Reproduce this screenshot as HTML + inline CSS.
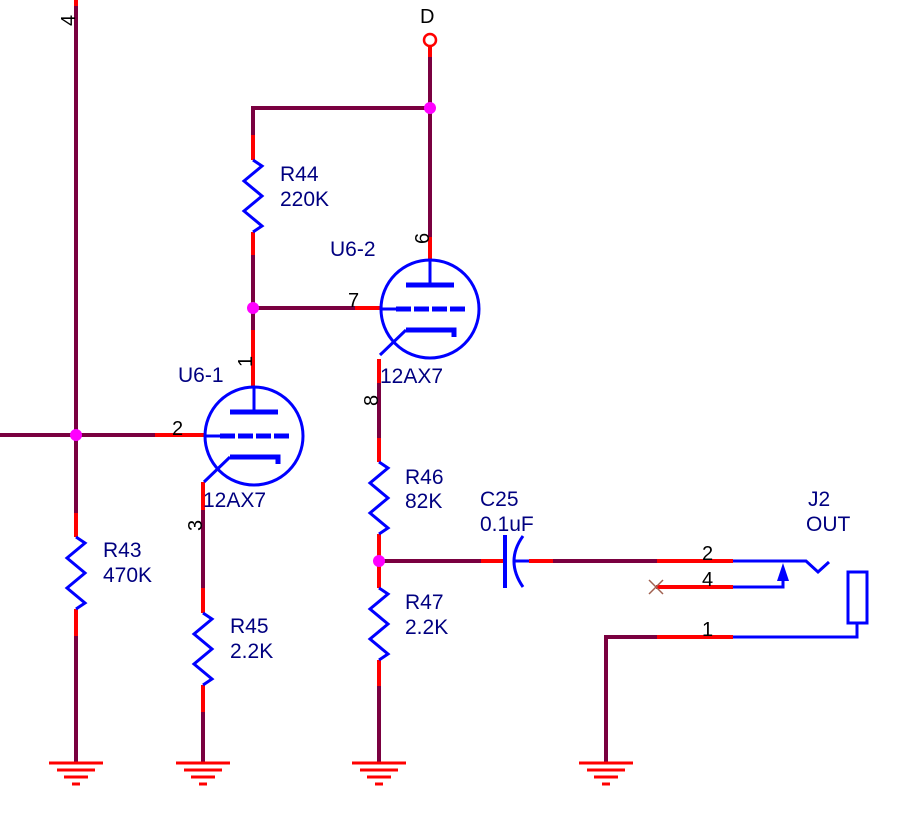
<!DOCTYPE html>
<html><head><meta charset="utf-8"><style>
html,body{margin:0;padding:0;background:#fff;width:909px;height:827px;overflow:hidden}
svg{display:block}
text{font-family:"Liberation Sans",sans-serif;font-size:21px;fill:#000080}
.p{fill:#000;font-size:20px}
</style></head><body>
<svg width="909" height="827" viewBox="0 0 909 827" xmlns="http://www.w3.org/2000/svg">
<defs>
<g id="gnd" stroke="#ff0000" stroke-width="3">
<line x1="-27" y1="0" x2="27" y2="0"/>
<line x1="-19" y1="7" x2="19" y2="7"/>
<line x1="-12" y1="14" x2="12" y2="14"/>
<line x1="-4" y1="21" x2="4" y2="21"/>
</g>
<polyline id="res" points="0,0 9,6 -9,21 9,36 -9,51 9,66 0,72" fill="none" stroke="#0000ff" stroke-width="3"/>
<g id="tube">
<circle cx="0" cy="0" r="49" fill="none" stroke="#0000ff" stroke-width="3"/>
<line x1="0" y1="-49" x2="0" y2="-24" stroke="#0000ff" stroke-width="3"/>
<line x1="-24" y1="-24" x2="24" y2="-24" stroke="#0000ff" stroke-width="5"/>
<line x1="-49" y1="0" x2="-34" y2="0" stroke="#0000ff" stroke-width="3"/>
<line x1="-34" y1="0" x2="35" y2="0" stroke="#0000ff" stroke-width="5" stroke-dasharray="15,3"/>
<polyline points="-24,21 24,21 24,28" fill="none" stroke="#0000ff" stroke-width="5"/>
<line x1="-24" y1="21" x2="-50" y2="46" stroke="#0000ff" stroke-width="3"/>
</g>
</defs>
<g fill="none" stroke-width="4">
<line x1="76" y1="0" x2="76" y2="513" stroke="#7a0040"/>
<line x1="76" y1="0" x2="76" y2="6" stroke="#ff0000"/>
<line x1="76" y1="513" x2="76" y2="537" stroke="#ff0000"/>
<line x1="76" y1="609" x2="76" y2="636" stroke="#ff0000"/>
<line x1="76" y1="636" x2="76" y2="763" stroke="#7a0040"/>
<line x1="0" y1="435" x2="155" y2="435" stroke="#7a0040"/>
<line x1="155" y1="435" x2="205" y2="435" stroke="#ff0000"/>
<line x1="203" y1="482" x2="203" y2="510" stroke="#ff0000"/>
<line x1="203" y1="510" x2="203" y2="588" stroke="#7a0040"/>
<line x1="203" y1="588" x2="203" y2="613" stroke="#ff0000"/>
<line x1="203" y1="685" x2="203" y2="712" stroke="#ff0000"/>
<line x1="203" y1="712" x2="203" y2="763" stroke="#7a0040"/>
<line x1="253" y1="106" x2="253" y2="135" stroke="#7a0040"/>
<line x1="253" y1="135" x2="253" y2="160" stroke="#ff0000"/>
<line x1="253" y1="232" x2="253" y2="255" stroke="#ff0000"/>
<line x1="253" y1="255" x2="253" y2="330" stroke="#7a0040"/>
<line x1="253" y1="330" x2="253" y2="386" stroke="#ff0000"/>
<line x1="251" y1="108" x2="430" y2="108" stroke="#7a0040"/>
<line x1="253" y1="308" x2="355" y2="308" stroke="#7a0040"/>
<line x1="355" y1="308" x2="381" y2="308" stroke="#ff0000"/>
<line x1="430" y1="57" x2="430" y2="237" stroke="#7a0040"/>
<line x1="430" y1="46" x2="430" y2="57" stroke="#ff0000"/>
<line x1="430" y1="237" x2="430" y2="260" stroke="#ff0000"/>
<line x1="379" y1="359" x2="379" y2="383" stroke="#ff0000"/>
<line x1="379" y1="383" x2="379" y2="438" stroke="#7a0040"/>
<line x1="379" y1="438" x2="379" y2="462" stroke="#ff0000"/>
<line x1="379" y1="534" x2="379" y2="588" stroke="#ff0000"/>
<line x1="379" y1="660" x2="379" y2="686" stroke="#ff0000"/>
<line x1="379" y1="686" x2="379" y2="763" stroke="#7a0040"/>
<line x1="379" y1="561" x2="481" y2="561" stroke="#7a0040"/>
<line x1="481" y1="561" x2="505" y2="561" stroke="#ff0000"/>
<line x1="529" y1="561" x2="553" y2="561" stroke="#ff0000"/>
<line x1="553" y1="561" x2="657" y2="561" stroke="#7a0040"/>
<line x1="657" y1="561" x2="733" y2="561" stroke="#ff0000"/>
<line x1="656" y1="587" x2="733" y2="587" stroke="#ff0000"/>
<polyline points="606,763 606,637 657,637" stroke="#7a0040"/>
<line x1="657" y1="637" x2="733" y2="637" stroke="#ff0000"/>
</g>
<use href="#res" x="76" y="537"/>
<use href="#res" x="203" y="613"/>
<use href="#res" x="253" y="160"/>
<use href="#res" x="379" y="462"/>
<use href="#res" x="379" y="588"/>
<use href="#tube" x="254" y="436"/>
<use href="#tube" x="430" y="309"/>
<line x1="505" y1="535" x2="505" y2="588" stroke="#0000ff" stroke-width="4"/>
<path d="M523,536 Q505,561 523,587" fill="none" stroke="#0000ff" stroke-width="3"/>
<line x1="515" y1="561" x2="529" y2="561" stroke="#0000ff" stroke-width="3"/>
<g fill="none" stroke="#0000ff" stroke-width="3">
<polyline points="733,561 806,561 818,572 829,562"/>
<polyline points="733,587 783,587 783,575"/>
<polyline points="733,637 857,637 857,623"/>
<rect x="848" y="572" width="19" height="51"/>
</g>
<polygon points="783,563 777,581 789,581" fill="#0000ff"/>
<g stroke="#a06050" stroke-width="1.5"><line x1="649" y1="580" x2="663" y2="594"/><line x1="663" y1="580" x2="649" y2="594"/></g>
<use href="#gnd" x="76" y="763"/>
<use href="#gnd" x="203" y="763"/>
<use href="#gnd" x="379" y="763"/>
<use href="#gnd" x="606" y="763"/>
<g fill="#ff00ff"><circle cx="76" cy="435" r="6"/><circle cx="253" cy="308" r="6"/><circle cx="430" cy="108" r="6"/><circle cx="379" cy="561" r="6"/></g>
<circle cx="430" cy="40" r="6" fill="#fff" stroke="#ff0000" stroke-width="2.5"/>
<text x="420" y="23" class="p">D</text>
<text x="280" y="181">R44</text><text x="280" y="206">220K</text>
<text x="330" y="256">U6-2</text>
<text x="178" y="382">U6-1</text>
<text x="380" y="383">12AX7</text>
<text x="203" y="507">12AX7</text>
<text x="405" y="484">R46</text><text x="405" y="508">82K</text>
<text x="405" y="609">R47</text><text x="405" y="634">2.2K</text>
<text x="103" y="557">R43</text><text x="103" y="582">470K</text>
<text x="230" y="633">R45</text><text x="230" y="658">2.2K</text>
<text x="480" y="506">C25</text><text x="480" y="531">0.1uF</text>
<text x="808" y="506">J2</text><text x="806" y="531">OUT</text>
<text class="p" x="172" y="435">2</text>
<text class="p" x="348" y="307">7</text>
<text class="p" x="702" y="560">2</text>
<text class="p" x="702" y="586">4</text>
<text class="p" x="702" y="636">1</text>
<text class="p" transform="translate(75,26) rotate(-90)">4</text>
<text class="p" transform="translate(252,367) rotate(-90)">1</text>
<text class="p" transform="translate(429,244) rotate(-90)">6</text>
<text class="p" transform="translate(378,406) rotate(-90)">8</text>
<text class="p" transform="translate(202,531) rotate(-90)">3</text>
</svg>
</body></html>
